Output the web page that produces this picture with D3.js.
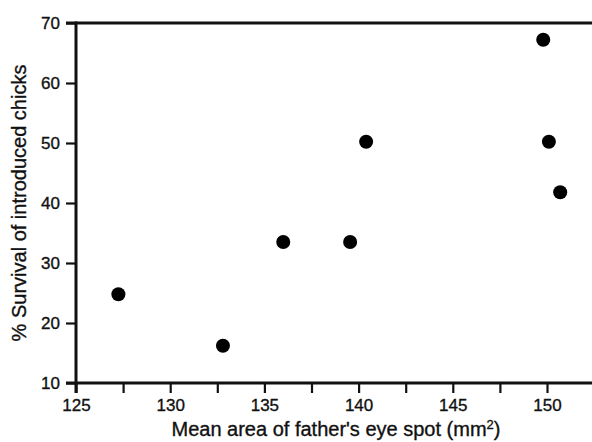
<!DOCTYPE html>
<html><head><meta charset="utf-8">
<script src="https://cdn.jsdelivr.net/npm/d3@7"></script>
<style>
body{margin:0;background:#fff;}
text{font-family:"Liberation Sans",Arial,Helvetica,sans-serif;fill:#111;stroke:#111;stroke-width:0.35px;}
</style></head>
<body><svg id="c" width="592" height="442"></svg>
<script>
const eyeSpotArea = [127.25, 132.8, 136.0, 139.55, 140.4, 149.8, 150.1, 150.7];
const survivalPct = [24.8, 16.2, 33.5, 33.5, 50.2, 67.2, 50.2, 41.8];
const xMajorTicks = [125, 130, 135, 140, 145, 150];
const xMinorTicks = [127.5, 132.5, 137.5, 142.5, 147.5];
const yTicks = [10, 20, 30, 40, 50, 60, 70];
const xTitle = "Mean area of father's eye spot (mm";
const yTitle = "% Survival of introduced chicks";

(function () {
const svg = d3.select("#c");
const pL = 76, pR = 592, pT = 23, pB = 383;
const x = d3.scaleLinear().domain([125, 150]).range([pL, 547]);
const y = d3.scaleLinear().domain([10, 70]).range([pB, pT]);

// top line
svg.append("line").attr("x1", pL - 10).attr("x2", pR).attr("y1", y(70)).attr("y2", y(70))
  .attr("stroke", "#111").attr("stroke-width", 3);

// x axis
svg.append("line").attr("x1", pL - 10).attr("x2", pR).attr("y1", pB).attr("y2", pB)
  .attr("stroke", "#111").attr("stroke-width", 3);
const xa = d3.axisBottom(x).tickValues(xMajorTicks).tickSize(10).tickPadding(6).tickFormat(d3.format("d"));
const gx = svg.append("g").attr("transform", `translate(0,${pB})`).call(xa);
gx.select(".domain").remove();
gx.selectAll(".tick line").attr("stroke", "#111").attr("stroke-width", 2.2);
gx.selectAll(".tick text").attr("font-size", 17).attr("fill", "#111").style("font-family", "Liberation Sans, Arial, sans-serif");
const xm = d3.axisBottom(x).tickValues(xMinorTicks).tickSize(10).tickFormat("");
const gxm = svg.append("g").attr("transform", `translate(0,${pB})`).call(xm);
gxm.select(".domain").remove();
gxm.selectAll(".tick line").attr("stroke", "#111").attr("stroke-width", 2.2);

// y axis
svg.append("line").attr("x1", pL).attr("x2", pL).attr("y1", pT - 1.5).attr("y2", pB + 10)
  .attr("stroke", "#111").attr("stroke-width", 3);
const ya = d3.axisLeft(y).tickValues(yTicks).tickSize(10).tickPadding(6).tickFormat(d3.format("d"));
const gy = svg.append("g").attr("transform", `translate(${pL},0)`).call(ya);
gy.select(".domain").remove();
gy.selectAll(".tick line").attr("stroke", "#111").attr("stroke-width", 2.2);
gy.selectAll(".tick text").attr("font-size", 17).attr("fill", "#111").style("font-family", "Liberation Sans, Arial, sans-serif");

// points
svg.append("g").selectAll("circle").data(eyeSpotArea).join("circle")
  .attr("cx", d => x(d)).attr("cy", (d, i) => y(survivalPct[i])).attr("r", 7).attr("fill", "#000");

// titles
const xt = svg.append("text").attr("x", 336).attr("y", 436).attr("text-anchor", "middle").attr("font-size", 20);
xt.append("tspan").text(xTitle);
xt.append("tspan").attr("font-size", 13).attr("dy", -7).text("2");
xt.append("tspan").attr("dy", 7).text(")");

svg.append("text").attr("transform", `translate(26,${(pT + pB) / 2}) rotate(-90)`)
  .attr("text-anchor", "middle").attr("font-size", 20).text(yTitle);
})();
</script></body></html>
